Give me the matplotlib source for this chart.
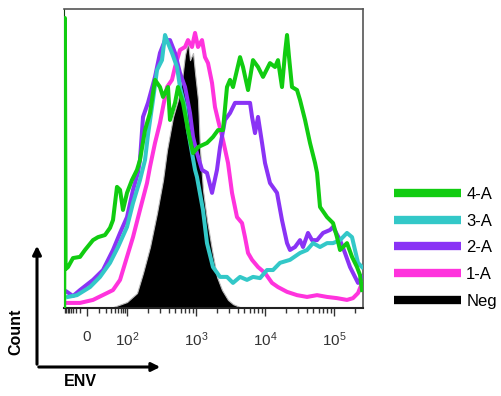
import matplotlib
matplotlib.use("Agg")
import matplotlib.pyplot as plt
from matplotlib.lines import Line2D
import numpy as np

plt.rcParams['font.family'] = ['Liberation Sans', 'DejaVu Sans']
plt.rcParams['mathtext.default'] = 'regular'

# x values are positions on the biexponential display, in decades (2 -> 10^2)
# y values are % of max count
neg_x = [1.797, 2.0, 2.145, 2.232, 2.333, 2.435, 2.522, 2.58, 2.667, 2.739, 2.797,
         2.841, 2.884, 2.913, 2.957, 2.986, 3.029, 3.058, 3.101, 3.159, 3.232, 3.304,
         3.377, 3.464, 3.536, 3.638, 3.71]
neg_y = [0.3, 2.0, 5.0, 11.7, 20.4, 31.8, 42.8, 52.8, 63.9, 69.6, 76.3,
         84.6, 89.0, 82.9, 85.3, 78.6, 69.6, 52.8, 39.5, 29.4, 19.4, 10.4,
         6.0, 2.7, 1.3, 0.3, 0.0]

a1_x = [1.145, 1.319, 1.507, 1.71, 1.797, 1.899, 2.0, 2.087, 2.188, 2.29, 2.333, 2.406,
        2.478, 2.522, 2.58, 2.652, 2.696, 2.768, 2.841, 2.884, 2.942, 2.986, 3.029,
        3.087, 3.13, 3.174, 3.232, 3.275, 3.319, 3.391, 3.464, 3.522, 3.594, 3.667,
        3.71, 3.754, 3.812, 3.899, 4.0, 4.101, 4.188, 4.319, 4.464, 4.609, 4.754,
        4.899, 5.043, 5.188, 5.275, 5.348, 5.406]
a1_y = [1.7, 1.7, 2.7, 5.0, 6.0, 9.4, 17.1, 23.7, 32.8, 41.8, 47.2, 55.2,
        61.9, 67.2, 73.9, 76.3, 80.6, 86.3, 87.3, 89.6, 87.3, 92.0, 87.3,
        89.6, 83.9, 81.9, 75.3, 67.2, 62.9, 56.2, 48.5, 38.5, 30.4, 28.4,
        23.7, 18.4, 16.1, 13.7, 11.7, 8.4, 7.0, 5.4, 4.3, 3.7, 4.3,
        3.7, 3.3, 2.7, 3.3, 5.0, 8.4]

a2_x = [1.13, 1.217, 1.319, 1.507, 1.652, 1.797, 1.899, 2.0, 2.087, 2.159, 2.188, 2.232,
        2.304, 2.406, 2.478, 2.551, 2.623, 2.696, 2.768, 2.841, 2.913, 2.957, 3.014,
        3.087, 3.159, 3.232, 3.304, 3.348, 3.42, 3.493, 3.565, 3.71, 3.783, 3.812,
        3.855, 3.899, 3.957, 4.0, 4.072, 4.174, 4.246, 4.319, 4.362, 4.435, 4.507,
        4.551, 4.623, 4.681, 4.754, 4.841, 4.942, 4.986, 5.087, 5.159, 5.232, 5.304,
        5.348, 5.406]
a2_y = [5.4, 4.0, 6.0, 9.4, 12.7, 19.4, 25.1, 30.4, 39.5, 45.2, 49.5, 63.9,
        68.6, 77.3, 85.3, 89.6, 89.6, 85.3, 78.6, 73.9, 65.2, 57.2, 51.8,
        46.2, 45.2, 38.5, 46.2, 53.8, 62.9, 65.2, 68.6, 68.6, 68.6, 63.9,
        58.5, 63.9, 55.2, 48.5, 41.8, 38.5, 29.4, 21.7, 19.4, 20.4, 22.7,
        20.4, 25.1, 22.7, 22.7, 25.1, 26.1, 27.1, 22.7, 18.4, 13.7, 10.4,
        8.4, 10.4]

a3_x = [1.145, 1.275, 1.464, 1.609, 1.754, 1.87, 2.0, 2.087, 2.188, 2.261, 2.304, 2.377,
        2.435, 2.507, 2.551, 2.594, 2.652, 2.725, 2.768, 2.841, 2.884, 2.942, 2.986,
        3.014, 3.101, 3.159, 3.246, 3.348, 3.449, 3.536, 3.638, 3.739, 3.826, 3.928,
        4.029, 4.116, 4.217, 4.362, 4.507, 4.609, 4.696, 4.797, 4.899, 4.986, 5.087,
        5.188, 5.261, 5.304, 5.348, 5.406]
a3_y = [3.7, 4.3, 7.0, 10.4, 15.1, 20.4, 27.1, 35.1, 42.8, 49.5, 57.9, 69.6,
        79.6, 82.9, 91.3, 88.6, 85.3, 80.6, 73.9, 67.2, 59.5, 51.8, 46.2,
        43.8, 32.8, 21.7, 13.7, 10.4, 10.4, 8.4, 10.4, 9.4, 10.4, 10.0,
        12.7, 12.7, 15.1, 16.1, 18.4, 19.4, 21.7, 20.4, 21.7, 21.7, 22.7,
        25.1, 23.7, 19.4, 15.1, 13.7]

a4_x = [1.09, 1.10, 1.11, 1.145, 1.217, 1.319, 1.391, 1.507, 1.58, 1.681, 1.754, 1.797,
        1.855, 1.899, 1.942, 2.0, 2.072, 2.145, 2.188, 2.261, 2.333, 2.406, 2.478,
        2.522, 2.594, 2.623, 2.696, 2.739, 2.812, 2.884, 2.957, 3.029, 3.159, 3.246,
        3.319, 3.391, 3.449, 3.493, 3.536, 3.638, 3.681, 3.754, 3.826, 3.899, 3.971,
        4.072, 4.145, 4.188, 4.246, 4.29, 4.319, 4.348, 4.391, 4.464, 4.507, 4.58,
        4.652, 4.725, 4.754, 4.797, 4.899, 4.986, 5.043, 5.087, 5.188, 5.261, 5.333,
        5.377, 5.406]
a4_y = [0.0, 97.0, 13.0, 13.7, 16.7, 17.1, 19.4, 22.7, 23.7, 24.4, 26.8, 29.4,
        40.5, 39.5, 32.8, 38.5, 42.8, 46.2, 49.5, 59.5, 65.2, 76.3, 73.9,
        70.6, 73.9, 62.9, 68.6, 73.9, 68.6, 59.5, 51.8, 53.8, 55.2, 57.2,
        59.5, 59.5, 73.9, 76.3, 73.9, 83.9, 80.6, 72.9, 82.9, 80.6, 77.3,
        81.9, 80.6, 82.9, 73.9, 85.3, 91.3, 83.9, 73.9, 72.9, 69.6, 62.9,
        55.2, 48.5, 45.2, 33.8, 30.4, 28.4, 23.7, 19.4, 21.7, 17.1, 13.7,
        11.0, 6.0]

labels = ['4-A', '3-A', '2-A', '1-A', 'Neg']
colors = ['#11cc11', '#33c8c8', '#8a33f5', '#ff33dd', '#000000']
major_pos = [1.42, 2, 3, 4, 5]
major_lbl = ['0', '$10^{2}$', '$10^{3}$', '$10^{4}$', '$10^{5}$']

fig = plt.figure(figsize=(5.02, 3.96), dpi=100)
ax = fig.add_axes([64 / 502, 88 / 396, 299 / 502, 299 / 396])

ax.fill_between(neg_x, neg_y, 0, color='black', lw=0.8, edgecolor='#bbbbbb', zorder=2)
lw = 2.9
ax.plot(a1_x, a1_y, color=colors[3], lw=lw, zorder=3)
ax.plot(a2_x, a2_y, color=colors[2], lw=lw, zorder=3)
ax.plot(a3_x, a3_y, color=colors[1], lw=lw, zorder=3)
ax.plot(a4_x, a4_y, color=colors[0], lw=lw, zorder=4)

ax.set_xlim(1.087, 5.42)
ax.set_ylim(0, 100)
ax.set_yticks([])

# biexponential-like minor ticks
minor = []
for k in range(2, 10):
    minor.append(1.42 + 0.58 * np.log10(k))
    minor.append(1.42 - 0.33 * np.log10(k))
    for d in (2, 3, 4):
        minor.append(d + np.log10(k))
minor.append(5 + np.log10(2))
ax.set_xticks(major_pos)
ax.set_xticklabels(major_lbl)
ax.set_xticks([m for m in minor if 1.09 < m < 5.42], minor=True)
ax.tick_params(axis='x', which='major', direction='out', length=6, width=1,
               color='#333333', labelsize=11, labelcolor='#333333', pad=10)
ax.tick_params(axis='x', which='minor', direction='out', length=3.5, width=1, color='#333333')

for s in ['top', 'right']:
    ax.spines[s].set_color('#555555')
    ax.spines[s].set_linewidth(1.2)
ax.spines['left'].set_color('#114411')
ax.spines['bottom'].set_color('#222222')
ax.spines['bottom'].set_linewidth(1.5)

# axis arrows
fig.add_artist(matplotlib.patches.FancyArrowPatch(
    (37 / 502, 29 / 396), (37 / 502, 153 / 396), transform=fig.transFigure,
    arrowstyle='-|>,head_length=5,head_width=2.5', lw=2.2, color='black'))
fig.add_artist(matplotlib.patches.FancyArrowPatch(
    (36 / 502, 29 / 396), (163 / 502, 29 / 396), transform=fig.transFigure,
    arrowstyle='-|>,head_length=5,head_width=2.5', lw=2.2, color='black'))
fig.text(16 / 502, 64 / 396, 'Count', rotation=90, ha='center', va='center',
         fontsize=11.5, fontweight='bold')
fig.text(80 / 502, 14 / 396, 'ENV', ha='center', va='center', fontsize=11.5, fontweight='bold')

handles = [Line2D([], [], color=c, lw=6, solid_capstyle='butt') for c in colors]
fig.legend(handles, labels, loc='upper left', bbox_to_anchor=(379.5 / 502, 1 - 172 / 396),
           frameon=False, fontsize=12, handlelength=4.0, handletextpad=0.3,
           labelspacing=0.70)

fig.savefig('out.png', dpi=100)
